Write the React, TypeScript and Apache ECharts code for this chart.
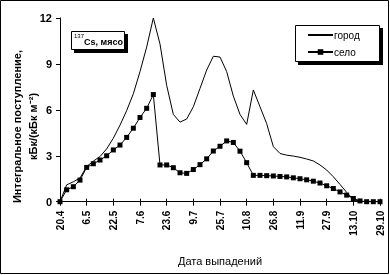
import React, { useEffect, useRef } from "react";
import * as echarts from "echarts";

const dates = [
  "20.4", "24.4", "28.4", "2.5", "6.5", "10.5", "14.5", "18.5", "22.5", "26.5",
  "30.5", "3.6", "7.6", "11.6", "15.6", "19.6", "23.6", "27.6", "1.7", "5.7",
  "9.7", "13.7", "17.7", "21.7", "25.7", "29.7", "2.8", "6.8", "10.8", "14.8",
  "18.8", "22.8", "26.8", "30.8", "3.9", "7.9", "11.9", "15.9", "19.9", "23.9",
  "27.9", "1.10", "5.10", "9.10", "13.10", "17.10", "21.10", "25.10", "29.10",
];

const gorod = [
  0, 1.1, 1.3, 1.55, 2.3, 2.65, 2.95, 3.45, 4.15, 5.0,
  5.95, 7.05, 8.5, 10.1, 12.0, 10.3, 7.6, 5.7, 5.2, 5.4,
  6.2, 7.4, 8.6, 9.5, 9.45, 8.5, 6.9, 5.7, 5.05, 7.3,
  6.2, 5.1, 3.6, 3.15, 3.04, 2.98, 2.9, 2.79, 2.66, 2.4,
  2.07, 1.63, 1.13, 0.61, 0.15, 0.02, 0, 0, 0,
];

const selo = [
  0, 0.78, 0.98, 1.41, 2.24, 2.48, 2.72, 3.0, 3.38, 3.7,
  4.2, 4.8, 5.5, 6.1, 7.0, 2.4, 2.4, 2.22, 1.89, 1.85,
  2.1, 2.42, 2.8, 3.31, 3.62, 3.97, 3.87, 3.3, 2.55, 1.72,
  1.72, 1.7, 1.68, 1.65, 1.62, 1.56, 1.5, 1.43, 1.34, 1.22,
  1.04, 0.86, 0.64, 0.43, 0.21, 0.05, 0, 0, 0,
];

const seriesNames = ["город", "село"];
const yTicks = { min: 0, max: 12, interval: 3 };
const yTitle = ["Интегральное поступление,", "кБк/(кБк м⁻²)"];
const xTitle = "Дата выпадений";

const FONT = "'Liberation Sans', Arial, sans-serif";

export default function App() {
  const ref = useRef<HTMLDivElement>(null);
  useEffect(() => {
    if (!ref.current) return;
    const chart = echarts.init(ref.current, null, { renderer: "svg" });
    chart.setOption({
      animation: false,
      textStyle: { fontFamily: FONT, color: "#000" },
      grid: { left: 60, right: 10, top: 18, bottom: 73.3, containLabel: false },
      legend: {
        data: [
          { name: seriesNames[0], itemStyle: { opacity: 0 } },
          { name: seriesNames[1] },
        ],
        orient: "vertical",
        left: 307,
        top: 30,
        padding: 0,
        itemWidth: 25,
        itemHeight: 7,
        itemGap: 7,
        z: 10,
        textStyle: { fontFamily: FONT, fontSize: 10, color: "#000", padding: [0, 0, 0, -4] },
      },
      xAxis: [
        {
          type: "category",
          data: dates,
          boundaryGap: false,
          position: "bottom",
          axisLine: { lineStyle: { color: "#000", width: 1 } },
          axisTick: { interval: 3, length: 4, lineStyle: { color: "#000" } },
          axisLabel: {
            interval: 3,
            rotate: 90,
            fontSize: 10,
            fontWeight: "bold",
            fontFamily: FONT,
            color: "#000",
            margin: 9,
          },
          name: xTitle,
          nameLocation: "middle",
          nameGap: 54,
          nameTextStyle: { fontFamily: FONT, fontSize: 11, color: "#000" },
        },
        {
          type: "category",
          data: dates,
          boundaryGap: false,
          position: "bottom",
          offset: 0,
          axisLine: { show: false },
          axisTick: { interval: 3, inside: true, length: 3, lineStyle: { color: "#000" } },
          axisLabel: { show: false },
        },
      ],
      yAxis: {
        type: "value",
        min: yTicks.min,
        max: yTicks.max,
        interval: yTicks.interval,
        axisLine: { show: true, lineStyle: { color: "#000", width: 1 } },
        axisTick: { show: true, length: 4, lineStyle: { color: "#000" } },
        axisLabel: { fontSize: 11, fontWeight: "bold", fontFamily: FONT, color: "#000", margin: 8 },
        splitLine: { show: false },
      },
      series: [
        {
          name: seriesNames[0],
          type: "line",
          xAxisIndex: 0,
          data: gorod,
          symbol: "none",
          lineStyle: { color: "#000", width: 1 },
          itemStyle: { color: "#000" },
        },
        {
          name: seriesNames[1],
          type: "line",
          xAxisIndex: 0,
          data: selo,
          symbol: "rect",
          symbolSize: 5,
          showSymbol: true,
          showAllSymbol: true,
          lineStyle: { color: "#000", width: 1 },
          itemStyle: { color: "#000" },
        },
      ],
      graphic: [
        {
          type: "rect",
          z: 0,
          silent: true,
          shape: { x: 0.5, y: 0.5, width: 388, height: 273 },
          style: { fill: "none", stroke: "#000", lineWidth: 1 },
        },
        {
          type: "rect",
          z: 1,
          shape: { x: 298, y: 28, width: 85, height: 37 },
          style: { fill: "#000" },
        },
        {
          type: "rect",
          z: 2,
          shape: { x: 295.5, y: 25.5, width: 84, height: 36 },
          style: { fill: "#fff", stroke: "#000", lineWidth: 1 },
        },
        {
          type: "rect",
          z: 1,
          shape: { x: 74, y: 34, width: 54, height: 19 },
          style: { fill: "#000" },
        },
        {
          type: "rect",
          z: 2,
          shape: { x: 71.5, y: 31.5, width: 53, height: 18 },
          style: { fill: "#fff", stroke: "#000", lineWidth: 1 },
        },
        {
          type: "text",
          z: 3,
          x: 74,
          y: 36,
          style: { text: "137", fontFamily: FONT, fontSize: 6, fill: "#000", verticalAlign: "middle" },
        },
        {
          type: "text",
          z: 3,
          x: 84,
          y: 42,
          style: { text: "Cs, мясо", fontFamily: FONT, fontSize: 9, fontWeight: "bold", fill: "#000", verticalAlign: "middle" },
        },
        {
          type: "text",
          z: 3,
          x: 17,
          y: 126.5,
          rotation: Math.PI / 2,
          style: { text: yTitle[0], fontFamily: FONT, fontSize: 11, fontWeight: "bold", fill: "#000", align: "center", verticalAlign: "middle" },
        },
        {
          type: "text",
          z: 3,
          x: 33,
          y: 126.5,
          rotation: Math.PI / 2,
          style: { text: yTitle[1], fontFamily: FONT, fontSize: 11, fontWeight: "bold", fill: "#000", align: "center", verticalAlign: "middle" },
        },
      ],
    });
    return () => chart.dispose();
  }, []);
  return <div ref={ref} style={{ width: 390, height: 275, position: "fixed", left: 0, top: 0 }} />;
}
